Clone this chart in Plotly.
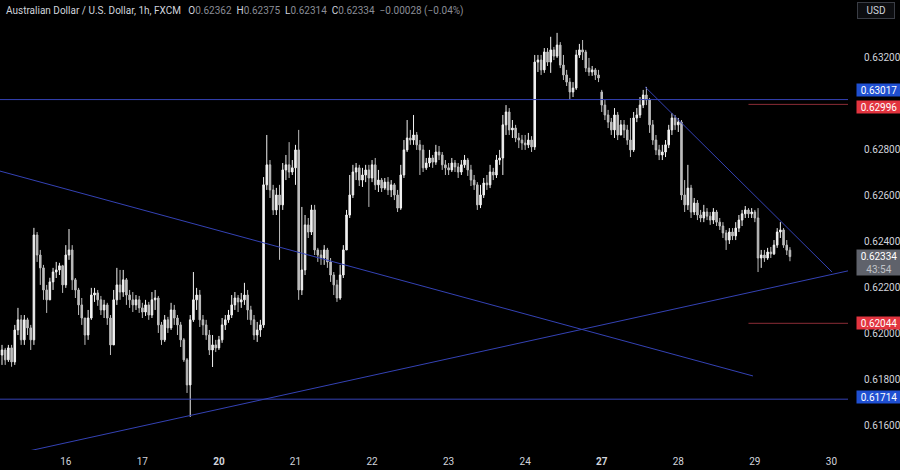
import plotly.graph_objects as go

# ---------------- data (prices in 1e-5 units, hourly candles) ----------------
opens = [
    61906, 61928, 61885, 61937, 61876, 62015, 62059, 61972, 62059, 62024,
    61972, 62428, 62341, 62285, 62189, 62146, 62224, 62267, 62276, 62294,
    62211, 62341, 62363, 62233, 62189, 62124, 62067, 61993, 62067, 62167,
    62176, 62146, 62102, 62124, 62067, 61950, 62146, 62211, 62180, 62233,
    62167, 62146, 62124, 62146, 62111, 62093, 62124, 62080, 62146, 62154,
    62037, 61972, 62059, 62024, 62102, 62067, 62037, 61972, 61885, 61776,
    62059, 62146, 62167, 62059, 62037, 61993, 61928, 61950, 61937, 61972,
    62037, 62059, 62080, 62124, 62154, 62137, 62146, 62167, 62102, 62059,
    61993, 62015, 62037, 62646, 62733, 62624, 62537, 62602, 62559, 62711,
    62733, 62702, 62720, 62798, 62189, 62276, 62472, 62441, 62537, 62363,
    62341, 62328, 62363, 62311, 62254, 62211, 62154, 62254, 62363, 62515,
    62602, 62702, 62720, 62667, 62689, 62711, 62676, 62733, 62646, 62667,
    62632, 62658, 62624, 62646, 62602, 62545, 62689, 62798, 62850, 62841,
    62863, 62820, 62798, 62720, 62741, 62763, 62745, 62789, 62776, 62733,
    62720, 62711, 62741, 62724, 62702, 62733, 62754, 62711, 62667, 62646,
    62559, 62602, 62654, 62646, 62702, 62689, 62754, 62763, 62907, 62963,
    62885, 62893, 62850, 62841, 62828, 62820, 62841, 62811, 63180, 63189,
    63146, 63224, 63180, 63233, 63206, 63254, 63167, 63124, 63093, 63050,
    63067, 63211, 63233, 63224, 63154, 63137, 63146, 63124, 63050, 62993,
    62950, 62919, 62885, 62950, 62863, 62907, 62885, 62841, 62798, 62937,
    62950, 62993, 63037, 63015, 62907, 62841, 62798, 62776, 62789, 62820,
    62885, 62937, 62907, 62919, 62602, 62559, 62632, 62528, 62567, 62515,
    62502, 62528, 62510, 62493, 62528, 62484, 62467, 62437, 62406, 62441,
    62424, 62458, 62493, 62520, 62537, 62520, 62528, 62502, 62328, 62341,
    62328, 62354, 62346, 62384, 62441, 62450, 62384, 62362,
]
highs = [
    61950, 61937, 61950, 61950, 62037, 62111, 62080, 62080, 62068, 62037,
    62459, 62441, 62363, 62298, 62211, 62242, 62285, 62311, 62307, 62298,
    62384, 62454, 62384, 62241, 62198, 62154, 62067, 62102, 62198, 62198,
    62189, 62163, 62146, 62133, 62080, 62189, 62285, 62276, 62276, 62241,
    62189, 62180, 62167, 62163, 62133, 62146, 62137, 62180, 62189, 62163,
    62050, 62080, 62072, 62133, 62124, 62080, 62050, 61980, 61893, 62080,
    62267, 62198, 62189, 62080, 62059, 62015, 61993, 61972, 61989, 62067,
    62080, 62102, 62167, 62180, 62167, 62176, 62220, 62189, 62120, 62080,
    62050, 62059, 62680, 62863, 62754, 62646, 62633, 62646, 62741, 62776,
    62832, 62754, 62820, 62885, 62550, 62515, 62502, 62559, 62559, 62372,
    62363, 62384, 62372, 62328, 62267, 62233, 62298, 62384, 62537, 62689,
    62733, 62741, 62733, 62720, 62733, 62733, 62754, 62763, 62711, 62676,
    62676, 62680, 62667, 62654, 62624, 62733, 62841, 62928, 62885, 62950,
    62876, 62841, 62820, 62763, 62798, 62776, 62820, 62815, 62789, 62754,
    62741, 62763, 62754, 62741, 62754, 62776, 62763, 62733, 62689, 62658,
    62646, 62676, 62689, 62733, 62720, 62776, 62798, 62950, 62993, 62980,
    62928, 62907, 62872, 62863, 62863, 62872, 62858, 63211, 63211, 63211,
    63241, 63241, 63290, 63246, 63307, 63267, 63211, 63146, 63111, 63093,
    63233, 63259, 63276, 63233, 63198, 63163, 63154, 63146, 63059, 63015,
    62972, 62937, 62980, 62963, 62928, 62928, 62907, 62937, 62963, 62980,
    63028, 63059, 63072, 63024, 62928, 62863, 62820, 62820, 62841, 62907,
    62958, 62950, 62937, 62928, 62667, 62733, 62646, 62589, 62580, 62537,
    62559, 62545, 62528, 62545, 62537, 62502, 62484, 62450, 62458, 62458,
    62484, 62515, 62537, 62554, 62545, 62545, 62537, 62545, 62363, 62363,
    62372, 62376, 62406, 62458, 62484, 62458, 62406, 62375,
]
lows = [
    61863, 61863, 61876, 61855, 61863, 61993, 61950, 61950, 61993, 61928,
    61950, 62311, 62211, 62146, 62089, 62146, 62189, 62241, 62254, 62176,
    62198, 62320, 62189, 62154, 62080, 62037, 61950, 61972, 62059, 62137,
    62120, 62080, 62067, 62037, 61906, 61950, 62124, 62146, 62159, 62124,
    62111, 62093, 62102, 62089, 62067, 62076, 62059, 62067, 62102, 62002,
    61950, 61963, 62002, 62015, 62037, 61993, 61941, 61876, 61741, 61637,
    62050, 62102, 62028, 61993, 61972, 61906, 61854, 61919, 61928, 61959,
    62015, 62046, 62067, 62102, 62093, 62111, 62124, 62059, 62037, 61972,
    61963, 61985, 62024, 62624, 62589, 62515, 62515, 62320, 62537, 62667,
    62676, 62689, 62646, 62146, 62167, 62254, 62415, 62428, 62341, 62311,
    62298, 62298, 62285, 62224, 62167, 62137, 62146, 62241, 62363, 62502,
    62589, 62667, 62641, 62637, 62658, 62550, 62658, 62624, 62615, 62615,
    62624, 62602, 62593, 62580, 62528, 62537, 62676, 62789, 62820, 62820,
    62798, 62689, 62702, 62711, 62724, 62720, 62733, 62754, 62711, 62689,
    62689, 62702, 62702, 62676, 62689, 62720, 62685, 62641, 62624, 62537,
    62545, 62589, 62624, 62632, 62667, 62676, 62733, 62689, 62863, 62863,
    62850, 62832, 62806, 62798, 62798, 62806, 62789, 62798, 63137, 63124,
    63133, 63163, 63133, 63189, 63198, 63154, 63102, 63076, 63015, 63028,
    63059, 63198, 63189, 63137, 63120, 63120, 63102, 63093, 62963, 62928,
    62893, 62863, 62850, 62841, 62876, 62850, 62820, 62767, 62789, 62919,
    62937, 62980, 62993, 62872, 62820, 62776, 62754, 62754, 62767, 62806,
    62863, 62885, 62876, 62580, 62528, 62537, 62502, 62515, 62493, 62484,
    62484, 62493, 62472, 62476, 62467, 62450, 62415, 62363, 62389, 62406,
    62406, 62441, 62467, 62502, 62502, 62502, 62484, 62267, 62285, 62311,
    62320, 62328, 62341, 62372, 62415, 62372, 62341, 62314,
]
closes = [
    61928, 61885, 61937, 61876, 62015, 62059, 61972, 62059, 62024, 61972,
    62428, 62341, 62285, 62189, 62146, 62224, 62267, 62276, 62294, 62211,
    62341, 62363, 62233, 62189, 62124, 62067, 61993, 62067, 62167, 62176,
    62146, 62102, 62124, 62067, 61950, 62146, 62211, 62180, 62233, 62167,
    62146, 62124, 62146, 62111, 62093, 62124, 62080, 62146, 62154, 62037,
    61972, 62059, 62024, 62102, 62067, 62037, 61972, 61885, 61776, 62059,
    62146, 62167, 62059, 62037, 61993, 61928, 61950, 61937, 61972, 62037,
    62059, 62080, 62124, 62154, 62137, 62146, 62167, 62102, 62059, 61993,
    62015, 62037, 62646, 62733, 62624, 62537, 62602, 62559, 62711, 62733,
    62702, 62720, 62798, 62189, 62276, 62472, 62441, 62537, 62363, 62341,
    62328, 62363, 62311, 62254, 62211, 62154, 62254, 62363, 62515, 62602,
    62702, 62720, 62667, 62689, 62711, 62676, 62733, 62646, 62667, 62632,
    62658, 62624, 62646, 62602, 62545, 62689, 62798, 62850, 62841, 62863,
    62820, 62798, 62720, 62741, 62763, 62745, 62789, 62776, 62733, 62720,
    62711, 62741, 62724, 62702, 62733, 62754, 62711, 62667, 62646, 62559,
    62602, 62654, 62646, 62702, 62689, 62754, 62763, 62907, 62963, 62885,
    62893, 62850, 62841, 62828, 62820, 62841, 62811, 63180, 63189, 63146,
    63224, 63180, 63233, 63206, 63254, 63167, 63124, 63093, 63050, 63067,
    63211, 63233, 63224, 63154, 63137, 63146, 63124, 63111, 62993, 62950,
    62919, 62885, 62950, 62863, 62907, 62885, 62841, 62798, 62937, 62950,
    62993, 63037, 63015, 62907, 62841, 62798, 62776, 62789, 62820, 62885,
    62937, 62907, 62919, 62602, 62559, 62632, 62528, 62567, 62515, 62502,
    62528, 62510, 62493, 62528, 62484, 62467, 62437, 62406, 62441, 62424,
    62458, 62493, 62520, 62537, 62520, 62528, 62502, 62328, 62341, 62328,
    62354, 62346, 62384, 62441, 62450, 62384, 62362, 62334,
]

day_labels = ["16", "17", "<b>20</b>", "21", "22", "23", "24", "<b>27</b>", "28", "29", "30"]
day_start_bar = [20, 44, 68, 92, 116, 140, 164, 188, 212, 236, 260]

# 0.63000 is hidden behind the level labels in the reference
price_ticks = [0.616, 0.618, 0.620, 0.622, 0.624, 0.626, 0.628, 0.632]

# analyst drawings: (bar index, price)
level_blue = [0.63017, 0.61714]
level_red = [0.62996, 0.62044]
red_start_bar = 234
trend_down_long = [(-0.63, 0.62706), (235.4, 0.61815)]
trend_up = [(8.8, 0.61490), (265.2, 0.62272)]
trend_down_short = [(201.6, 0.63072), (260.2, 0.62267)]

header_name = "Australian Dollar / U.S. Dollar, 1h, FXCM"
last_change = "\u22120.00028 (\u22120.04%)"
countdown = "43:54"

# ---------------- figure ----------------
SCALE = 1e-5
o = [v * SCALE for v in opens]
h = [v * SCALE for v in highs]
l = [v * SCALE for v in lows]
c = [v * SCALE for v in closes]
xs = list(range(len(closes)))

X0, X1 = -0.63, 265.2
Y0, Y1 = 0.61493, 0.6345

BLUE_LINE = "#3442b4"
RED_LINE = "#8a2c36"
FONT = "Roboto, Arial, sans-serif"
TXT = "#d1d4dc"

fig = go.Figure()
fig.add_trace(go.Candlestick(
    x=xs, open=o, high=h, low=l, close=c,
    increasing=dict(line=dict(color="#f2f2f2", width=1), fillcolor="#f2f2f2"),
    decreasing=dict(line=dict(color="#bdbdbd", width=1), fillcolor="#bdbdbd"),
    whiskerwidth=0, hoverinfo="skip", showlegend=False,
))

for lv in level_blue:
    fig.add_trace(go.Scatter(x=[X0, X1], y=[lv, lv], mode="lines",
                             line=dict(color=BLUE_LINE, width=1), hoverinfo="skip", showlegend=False))
for lv in level_red:
    fig.add_trace(go.Scatter(x=[red_start_bar, X1], y=[lv, lv], mode="lines",
                             line=dict(color=RED_LINE, width=1), hoverinfo="skip", showlegend=False))
for seg in (trend_down_long, trend_up, trend_down_short):
    fig.add_trace(go.Scatter(x=[p[0] for p in seg], y=[p[1] for p in seg], mode="lines",
                             line=dict(color=BLUE_LINE, width=1), hoverinfo="skip", showlegend=False))

annotations = []
grey = "#8a8d96"
sp = "\u00a0\u00a0"
hdr = (f"{header_name}{sp}\u00a0"
       f"O<span style='color:{grey}'>{opens[-1]*SCALE:.5f}</span>{sp}"
       f"H<span style='color:{grey}'>{highs[-1]*SCALE:.5f}</span>{sp}"
       f"L<span style='color:{grey}'>{lows[-1]*SCALE:.5f}</span>{sp}"
       f"C<span style='color:{grey}'>{closes[-1]*SCALE:.5f}</span>{sp}"
       f"<span style='color:{grey}'>{last_change}</span>")
annotations.append(dict(xref="paper", yref="paper", x=0, y=1, xanchor="left", yanchor="top",
                        xshift=4, yshift=-3, text=hdr, showarrow=False,
                        font=dict(family=FONT, size=10, color=TXT)))
annotations.append(dict(xref="paper", yref="paper", x=1, y=1, xanchor="left", yanchor="top",
                        xshift=9, yshift=-2, text="USD", showarrow=False, width=32,
                        bordercolor="#3a3d45", borderwidth=1, borderpad=2, bgcolor="#0c0d10",
                        font=dict(family=FONT, size=10, color=TXT)))


def price_box(price, color, shift=0, text=None, height=12):
    return dict(xref="paper", yref="y", x=1, y=price, xanchor="left", yanchor="middle",
                xshift=8, yshift=shift, text=text or f"{price:.5f}", showarrow=False,
                width=44, height=height, borderpad=0, bgcolor=color, align="center",
                font=dict(family=FONT, size=10, color="#ffffff"))


annotations.append(price_box(level_blue[0], "#1f4fd1", shift=10))
annotations.append(price_box(level_red[0], "#e2343f", shift=-3))
annotations.append(price_box(level_red[1], "#e2343f"))
annotations.append(price_box(level_blue[1], "#1f4fd1", shift=2))
annotations.append(price_box(c[-1], "#5f626b", shift=-6, height=25,
                             text=f"{c[-1]:.5f}<br><span style='color:#c0c2c8'>{countdown}</span>"))

fig.update_layout(
    width=900, height=470,
    margin=dict(l=0, r=52, t=0, b=20),
    paper_bgcolor="#000000", plot_bgcolor="#000000",
    showlegend=False,
    annotations=annotations,
    font=dict(family=FONT, size=10, color=TXT),
    xaxis=dict(range=[X0, X1], rangeslider=dict(visible=False), showgrid=False, zeroline=False,
               showline=False, ticks="", tickvals=day_start_bar, ticktext=day_labels,
               tickfont=dict(family=FONT, size=10, color=TXT), ticklabelstandoff=4, fixedrange=True),
    yaxis=dict(range=[Y0, Y1], side="right", showgrid=False, zeroline=False, showline=False,
               ticks="", tickvals=price_ticks, ticktext=[f"{t:.5f}" for t in price_ticks],
               tickfont=dict(family=FONT, size=10, color=TXT), ticklabelstandoff=15, fixedrange=True),
)

fig.write_html(
    "out.html",
    config={"displayModeBar": False},
    post_script="document.body.style.margin='0';document.body.style.background='#000';",
)
